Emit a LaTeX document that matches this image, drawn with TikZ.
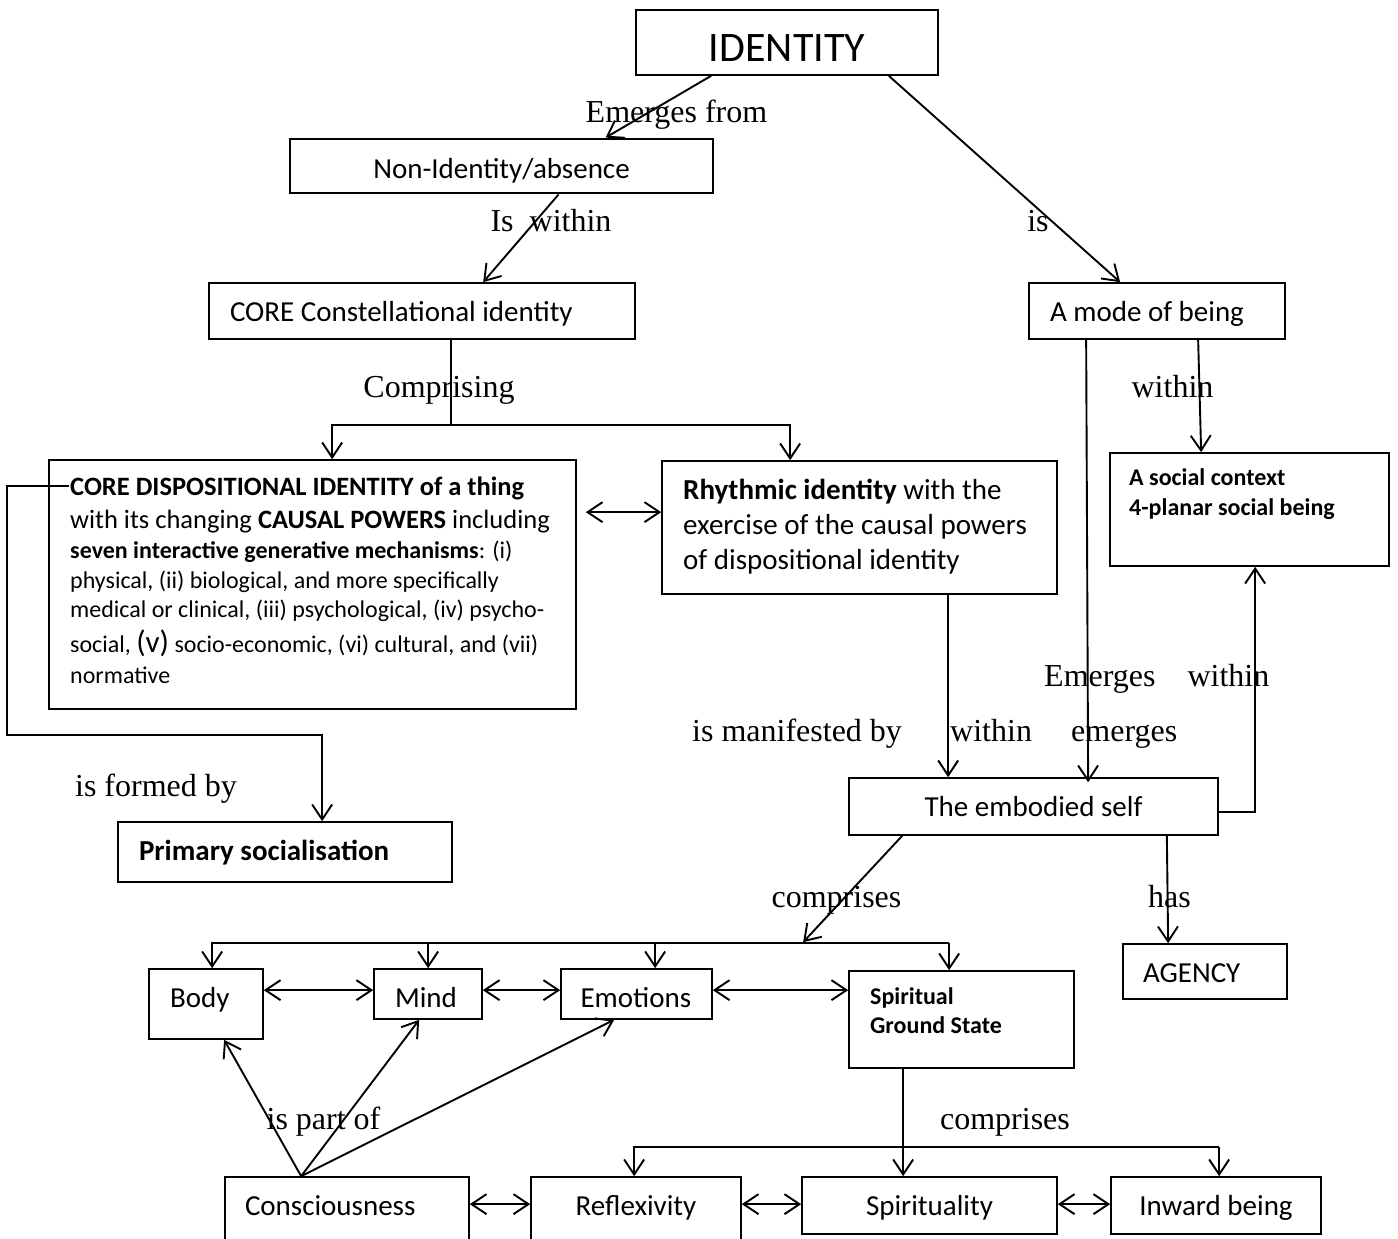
\documentclass[tikz,border=0pt]{standalone}
\usepackage{fontspec}
\setmainfont{Carlito}
\newfontfamily\lblfont{Liberation Serif}
\usetikzlibrary{arrows.meta}
\begin{document}
\begin{tikzpicture}[x=1pt,y=-1pt,
  nbox/.style={draw, line width=1.7pt, inner xsep=0pt, inner ysep=0pt, text depth=0pt},
  fsI/.style={font=\fontsize{42}{48}\selectfont},
  fsN/.style={font=\fontsize{29}{35}\selectfont},
  fsB/.style={font=\fontsize{29}{35}\selectfont\bfseries},
  intext/.style={inner sep=0pt, anchor=base west},
  lbl/.style={inner sep=0pt, anchor=base, font=\lblfont\fontsize{32}{36}\selectfont},
  lblw/.style={lbl, anchor=base west},
  conn/.style={line width=1.9pt},
  arr/.style={conn, -{Straight Barb[length=15pt,width=20pt]}},
  darr/.style={conn, {Straight Barb[length=15pt,width=20pt]}-{Straight Barb[length=15pt,width=20pt]}}
]
\clip (0,0) rectangle (1398,1239);
\fill[white] (0,0) rectangle (1398,1239);

% ---- boxes ----
\node[nbox, fsI, minimum width=302pt, minimum height=65pt, text height=39pt] (identity) at (787,42.5) {IDENTITY};
\node[nbox, fsN, line width=2.8pt, minimum width=423pt, minimum height=54pt, text height=24pt] (nonid) at (501.5,166) {Non-Identity/absence};
\node[nbox, fsN, minimum width=426pt, minimum height=56pt, inner xsep=21pt, text height=21pt] (corec) at (422,311) {\makebox[384pt][l]{CORE Constellational identity}};
\node[nbox, fsN, minimum width=256pt, minimum height=56pt, inner xsep=21pt, text height=21pt] (mode) at (1157,311) {\makebox[214pt][l]{A mode of being}};
\node[nbox, fsN, minimum width=369pt, minimum height=57pt, text height=19pt] (embodied) at (1033.5,806.5) {The embodied self};
\node[nbox, fsB, minimum width=334pt, minimum height=60pt, inner xsep=21pt, text height=16pt] (primary) at (285,852) {\makebox[292pt][l]{Primary socialisation}};
\node[nbox, fsN, minimum width=164pt, minimum height=55pt, inner xsep=20pt, text height=21pt] (agency) at (1205,971.5) {\makebox[124pt][l]{AGENCY}};
\node[nbox, fsN, minimum width=114pt, minimum height=70pt, inner xsep=21pt, text height=6pt] (body) at (206,1004) {\makebox[72pt][l]{Body}};
\node[nbox, fsN, minimum width=108pt, minimum height=50pt, inner xsep=21pt, text height=26pt] (mind) at (428,994) {\makebox[66pt][l]{Mind}};
\node[nbox, fsN, minimum width=151pt, minimum height=50pt, inner xsep=19.5pt, text height=26pt] (emotions) at (636.5,994) {\makebox[112pt][l]{Emotions}};
\node[nbox, fsN, minimum width=244pt, minimum height=64pt, inner xsep=20pt, text height=12pt] (consc) at (347,1209) {\makebox[204pt][l]{Consciousness}};
\node[nbox, fsN, minimum width=210pt, minimum height=64pt, text height=12pt] (reflex) at (636,1209) {Reflexivity};
\node[nbox, fsN, minimum width=255pt, minimum height=57pt, text height=19pt] (spirituality) at (929.5,1205.5) {Spirituality};
\node[nbox, fsN, minimum width=210pt, minimum height=57pt, text height=19pt] (inward) at (1216,1205.5) {Inward being};

% multi-line boxes
\node[nbox, minimum width=527pt, minimum height=249pt] (disp) at (312.5,584.5) {};
\node[nbox, minimum width=395pt, minimum height=133pt] (rhythm) at (859.5,527.5) {};
\node[nbox, minimum width=279pt, minimum height=113pt] (social) at (1249.5,509.5) {};
\node[nbox, minimum width=225pt, minimum height=97pt] (spiritual) at (961.5,1019.5) {};

% texts inside multi-line boxes
\node[intext, font=\fontsize{26.5}{30}\selectfont\bfseries] (d1) at (70,495) {CORE DISPOSITIONAL IDENTITY of a thing};
\node[intext, font=\fontsize{26.5}{30}\selectfont] (d2) at (70,528) {with its changing \textbf{CAUSAL POWERS} including};
\node[intext, font=\fontsize{24}{28}\selectfont] (d3) at (70,558) {\textbf{seven interactive generative mechanisms}: (i)};
\node[intext, font=\fontsize{24}{28}\selectfont] (d4) at (70,588) {physical, (ii) biological, and more specifically};
\node[intext, font=\fontsize{24}{28}\selectfont] (d5) at (70,617) {medical or clinical, (iii) psychological, (iv) psycho-};
\node[intext, font=\fontsize{24}{28}\selectfont] (d6) at (70,652) {social, {\fontsize{31}{34}\selectfont(v)} socio-economic, (vi) cultural, and (vii)};
\node[intext, font=\fontsize{24}{28}\selectfont] (d7) at (70,683) {normative};

\node[intext, fsN] (r1) at (683,499) {\textbf{Rhythmic identity} with the};
\node[intext, fsN] (r2) at (683,534) {exercise of the causal powers};
\node[intext, fsN] (r3) at (683,569) {of dispositional identity};

\node[intext, font=\fontsize{24}{28}\selectfont\bfseries] (s1) at (1129,485) {A social context};
\node[intext, font=\fontsize{24}{28}\selectfont\bfseries] (s2) at (1129,515) {4-planar social being};

\node[intext, font=\fontsize{24}{28}\selectfont\bfseries] (g1) at (870,1004) {Spiritual};
\node[intext, font=\fontsize{24}{28}\selectfont\bfseries] (g2) at (870,1033) {Ground State};

% ---- connectors ----
\draw[arr] ([xshift=76pt]identity.south west) -- ([xshift=317pt]nonid.north west);
\draw[arr] ([xshift=270pt]nonid.south west) -- ([xshift=275pt]corec.north west);
\draw[arr] ([xshift=-50pt]identity.south east) -- ([xshift=92pt]mode.north west);

\draw[conn] ([xshift=243pt]corec.south west) -- ++(0,85) coordinate (cbr);
\draw[arr] (cbr) -| ([xshift=284pt]disp.north west);
\draw[arr] (cbr) -| ([xshift=129pt]rhythm.north west);

\draw[arr] ([xshift=170pt]mode.south west) -- ([xshift=92pt]social.north west);
\draw[arr] ([xshift=58pt]mode.south west) -- ([xshift=240pt,yshift=-5pt]embodied.north west);
\draw[arr] ([xshift=287pt]rhythm.south west) -- ([xshift=100pt]embodied.north west);
\draw[arr] ([yshift=-5.5pt]embodied.east) -| ([xshift=146pt]social.south west);

\draw[darr] ([xshift=9pt,yshift=-53pt]disp.north east) -- ([yshift=-52pt]rhythm.north west);

\draw[arr] ([xshift=21pt,yshift=-27pt]disp.north west) -- ++(-62,0) |- ([xshift=205pt,yshift=86pt]primary.north west) -- ([xshift=205pt]primary.north west);

\draw[arr] ([xshift=54pt]embodied.south west) -- ([xshift=-45pt,yshift=28pt]spiritual.north west);
\draw[arr] ([xshift=101pt,yshift=27pt]spiritual.north west) -| ([xshift=64pt]body.north west);
\draw[arr] ([xshift=55pt,yshift=25pt]mind.north west) -- ([xshift=55pt]mind.north west);
\draw[arr] ([xshift=95pt,yshift=25pt]emotions.north west) -- ([xshift=95pt]emotions.north west);
\draw[arr] ([xshift=101pt,yshift=27pt]spiritual.north west) -- ([xshift=101pt]spiritual.north west);

\draw[arr] ([xshift=-52pt]embodied.south east) -- ([xshift=46pt]agency.north west);

\draw[darr] ([yshift=-22pt]body.north east) -- ([yshift=-22pt]mind.north west);
\draw[darr] ([yshift=-22pt]mind.north east) -- ([yshift=-22pt]emotions.north west);
\draw[darr] ([yshift=-22pt]emotions.north east) -- ([yshift=-20pt]spiritual.north west);

\draw[arr] ([xshift=77pt]consc.north west) -- ([xshift=76pt]body.south west);
\draw[arr] ([xshift=77pt]consc.north west) -- ([xshift=46pt]mind.south west);
\draw[arr] ([xshift=77pt]consc.north west) -- ([xshift=54pt]emotions.south west);

\draw[arr] ([xshift=55pt]spiritual.south west) -- ([xshift=102pt]spirituality.north west);
\draw[arr] ([xshift=109pt,yshift=29pt]inward.north west) -| ([xshift=104pt]reflex.north west);
\draw[arr] ([xshift=109pt,yshift=29pt]inward.north west) -- ([xshift=109pt]inward.north west);

\draw[darr] ([yshift=-28pt]consc.north east) -- ([yshift=-28pt]reflex.north west);
\draw[darr] ([yshift=-28pt]reflex.north east) -- ([yshift=-28pt]spirituality.north west);
\draw[darr] ([yshift=-28pt]spirituality.north east) -- ([yshift=-28pt]inward.north west);

% ---- labels ----
\node[lbl] (l1) at (676.5,122) {Emerges from};
\node[lbl] (l2) at (551,231) {Is~ within};
\node[lbl] (l3) at (1038,231.5) {is};
\node[lbl] (l4) at (439,397) {Comprising};
\node[lbl] (l5) at (1172.5,397) {within};
\node[lblw] (l6) at (1044,686) {Emerges\hspace{32pt}within};
\node[lblw] (l7) at (692,741) {is manifested by};
\node[lblw] (l8) at (950,741) {within};
\node[lblw] (l9) at (1071,741) {emerges};
\node[lbl] (l10) at (156,796) {is formed by};
\node[lbl] (l11) at (836.5,907) {comprises};
\node[lbl] (l12) at (1169.5,907) {has};
\node[lbl] (l13) at (323.5,1129) {is part of};
\node[lbl] (l14) at (1005,1129) {comprises};
\end{tikzpicture}
\end{document}
